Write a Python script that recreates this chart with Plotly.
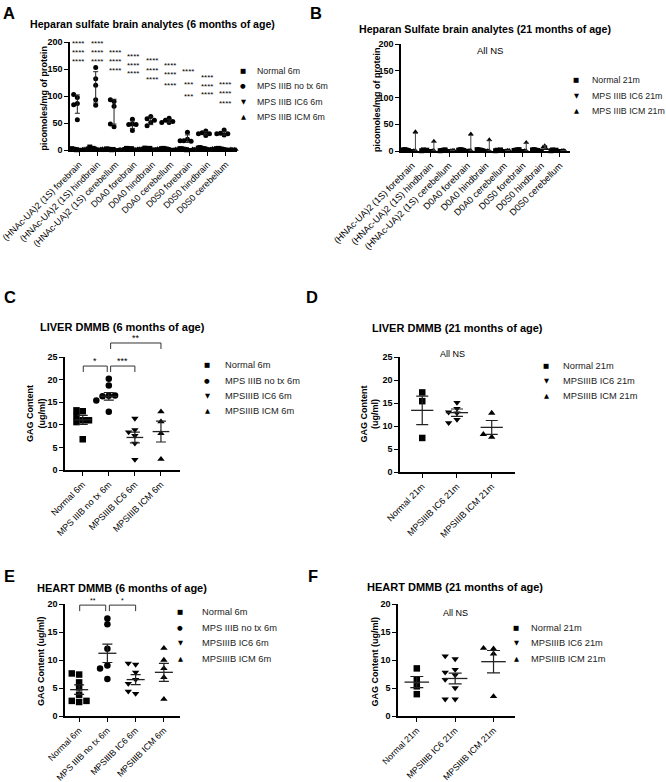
import plotly.graph_objects as go

W, H = 666, 782

# ---------------- DATA ----------------
A_CATS = ["(HNAc-UA)2 (1S) forebrain", "(HNAc-UA)2 (1S) hindbrain", "(HNAc-UA)2 (1S) cerebellum",
          "D0A0 forebrain", "D0A0 hindbrain", "D0A0 cerebellum",
          "D0S0 forebrain", "D0S0 hindbrain", "D0S0 cerebellum"]
A_GROUPS = ["Normal 6m", "MPS IIIB no tx 6m", "MPS IIIB IC6 6m", "MPS IIIB ICM 6m"]
A_NORMAL = [[1.5, 2.5, 1.0, 2.0, 0.5], [2.5, 5.5, 3.0, 2.0, 1.5], [1.0, 1.5, 0.5, 2.0, 1.0],
            [2.0, 3.0, 1.5, 1.0, 2.5], [2.5, 3.5, 2.0, 1.5, 3.0], [2.0, 3.0, 1.5, 2.5, 1.0],
            [1.5, 2.0, 1.0, 2.5, 0.5], [3.0, 4.5, 2.5, 3.5, 2.0], [2.0, 3.0, 1.5, 2.5, 1.0]]
A_NOTX = [[86, 84, 97, 103, 56], [153, 132, 120, 83, 93], [90, 93, 81, 43, 48],
          [57, 48, 47, 36, 47], [62, 58, 55, 51, 45], [59, 55, 53, 51, 51],
          [33, 20, 17, 16, 17], [35, 32, 30, 30, 27], [37, 31, 30, 30, 28]]
A_IC6 = [[1.0, 1.5, 0.5, 2.0, 1.0], [1.5, 2.0, 1.0, 2.5, 0.5], [0.5, 1.0, 1.5, 0.5, 1.0],
         [1.5, 2.0, 1.0, 2.5, 1.0], [2.0, 2.5, 1.5, 1.0, 2.0], [1.5, 2.0, 1.0, 0.5, 1.5],
         [1.0, 1.5, 0.5, 1.0, 2.0], [2.0, 2.5, 1.5, 3.0, 2.0], [1.5, 2.0, 1.0, 2.5, 1.0]]
A_ICM = [[1.0, 2.0, 0.5, 1.5, 1.0], [1.5, 2.5, 1.0, 2.0, 0.5], [0.5, 1.0, 1.5, 1.0, 0.5],
         [1.5, 2.5, 1.0, 2.0, 1.0], [2.0, 2.5, 1.5, 1.0, 2.0], [1.0, 2.0, 1.5, 0.5, 1.0],
         [1.0, 1.5, 0.5, 2.0, 1.0], [2.5, 3.0, 1.5, 2.0, 2.5], [1.0, 2.0, 1.5, 0.5, 1.0]]
A_NOTX_MEAN = [85, 116, 71, 47, 54, 54, 21, 31, 31]
A_NOTX_SD = [17, 29, 23, 7, 7, 3, 7, 3, 3.5]
A_STARS = [["****", "****", "****"], ["****", "****", "****"], ["****", "****", "****"],
           ["****", "****", "****"], ["****", "****", "****"], ["****", "****", "****"],
           ["****", "***", "***"], ["****", "****", "****"], ["****", "****", "****"]]

B_GROUPS = ["Normal 21m", "MPS IIIB IC6 21m", "MPS IIIB ICM 21m"]
B_NORMAL = [[1.5, 2.5, 1.0, 2.0], [1.0, 2.0, 1.5, 0.5], [1.5, 1.0, 2.0, 0.5],
            [2.0, 2.5, 1.0, 1.5], [1.5, 2.0, 1.0, 2.5], [1.0, 1.5, 2.0, 0.5],
            [2.0, 1.5, 2.5, 1.0], [1.5, 2.5, 1.0, 2.0], [1.0, 2.0, 1.5, 0.5]]
B_IC6 = [[1.0, 1.5, 0.5, 2.0], [0.5, 1.0, 1.5, 2.0], [1.0, 0.5, 1.5, 2.0],
         [1.5, 1.0, 2.0, 0.5], [1.0, 2.0, 0.5, 1.5], [0.5, 1.5, 1.0, 2.0],
         [1.5, 1.0, 0.5, 2.0], [1.0, 2.0, 1.5, 0.5], [1.5, 0.5, 1.0, 2.0]]
B_ICM = [[36, 1.0, 0.5], [18, 0.8, 0.4], [1.0, 0.5, 1.5], [32, 1.0, 0.6], [21, 0.6, 0.4],
         [1.2, 0.6, 0.8], [16, 0.6, 0.3], [10, 7, 4], [1.0, 0.6, 0.4]]
B_ICM_MEAN = [12.5, 6.4, 1.0, 11.2, 7.3, 0.9, 5.6, 7.0, 0.7]
B_ICM_ERR_UP = [20.5, 10.0, 0.5, 18.0, 11.8, 0.3, 9.0, 3.0, 0.3]
B_ICM_ERR_DN = [12.5, 6.4, 0.5, 11.2, 7.3, 0.3, 5.6, 3.0, 0.3]

C_GROUPS = ["Normal 6m", "MPS IIIB no tx 6m", "MPSIIIB IC6 6m", "MPSIIIB ICM 6m"]
C_VALUES = [[13.0, 13.2, 11.9, 11.0, 11.0, 10.6, 6.8],
            [20.2, 18.7, 16.4, 16.3, 16.5, 15.4, 12.9],
            [11.4, 8.9, 8.4, 7.6, 5.9, 2.3],
            [12.9, 10.7, 8.1, 2.4]]
C_MEAN = [11.1, 16.3, 7.2, 8.5]
C_SEM = [1.0, 0.85, 1.2, 2.3]
C_SIG = [(0, 1, 23.0, "*"), (1, 2, 23.0, "***"), (1, 3, 28.1, "**")]

D_GROUPS = ["Normal 21m", "MPSIIIB IC6 21m", "MPSIIIB ICM 21m"]
D_VALUES = [[17.3, 15.4, 7.4],
            [15.1, 13.8, 13.0, 12.8, 11.4, 10.7],
            [12.8, 7.6, 8.2]]
D_MEAN = [13.4, 12.9, 9.7]
D_SEM = [3.1, 0.8, 1.5]

E_GROUPS = ["Normal 6m", "MPS IIIB no tx 6m", "MPSIIIB IC6 6m", "MPSIIIB ICM 6m"]
E_VALUES = [[7.4, 7.6, 6.0, 5.1, 3.8, 2.5, 2.7, 2.7],
            [17.4, 16.4, 12.0, 9.0, 8.5, 6.6],
            [9.2, 9.4, 7.8, 6.5, 5.8, 4.0, 4.4],
            [12.1, 10.0, 8.5, 6.9, 3.0]]
E_MEAN = [4.7, 11.2, 6.5, 7.8]
E_SEM = [0.85, 1.65, 0.9, 1.6]
E_SIG = [(0, 1, 19.8, "**"), (1, 2, 19.8, "*")]

F_GROUPS = ["Normal 21m", "MPSIIIB IC6 21m", "MPSIIIB ICM 21m"]
F_VALUES = [[8.5, 6.5, 5.3, 3.9],
            [10.2, 10.7, 8.3, 7.8, 7.3, 6.5, 5.0, 3.0, 3.0],
            [12.0, 12.1, 11.1, 3.5]]
F_MEAN = [6.05, 6.7, 9.7]
F_SEM = [1.0, 0.95, 2.0]

# ---------------- LAYOUT CONSTANTS ----------------
FONT = "Liberation Sans, Arial, sans-serif"
PANEL = {
    "A": dict(n=1, x=(70, 237), y=(150, 42), xr=(-0.5, 8.6), yr=(0, 200), dt=50, fs=9.0),
    "B": dict(n=2, x=(401, 570), y=(151, 44), xr=(-0.6, 8.55), yr=(0, 200), dt=50, fs=9.2),
    "C": dict(n=3, x=(65, 180), y=(470, 357), xr=(-0.68, 3.73), yr=(0, 25), dt=5, fs=9.0),
    "D": dict(n=4, x=(400, 515), y=(472, 357), xr=(-0.64, 2.67), yr=(0, 25), dt=5, fs=9.0),
    "E": dict(n=5, x=(65, 180), y=(716, 604), xr=(-0.5, 3.57), yr=(0, 20), dt=5, fs=8.8),
    "F": dict(n=6, x=(398, 515), y=(716, 604), xr=(-0.49, 2.56), yr=(0, 20), dt=5, fs=8.8),
}
SYMS = ["square", "circle", "triangle-down", "triangle-up"]
GLYPH = {"square": "\u25A0", "circle": "\u25CF", "triangle-down": "\u25BC", "triangle-up": "\u25B2"}


def px(x):
    return x / W


def py(y):
    return 1 - y / H


def to_paper(p, xv, yv):
    c = PANEL[p]
    x0, x1 = c["x"]
    yb, yt = c["y"]
    xr, yr = c["xr"], c["yr"]
    X = x0 + (xv - xr[0]) / (xr[1] - xr[0]) * (x1 - x0)
    Y = yb + (yv - yr[0]) / (yr[1] - yr[0]) * (yt - yb)
    return X, Y


def swarm(vals, thr):
    order = [0, -1, 1, -2, 2, -3, 3, -4, 4]
    slots = []
    for i, v in enumerate(vals):
        used = {slots[j] for j in range(i) if abs(vals[j] - v) < thr}
        for s in order:
            if s not in used:
                slots.append(s)
                break
    return slots


fig = go.Figure()
layout = dict(width=W, height=H, margin=dict(l=0, r=0, t=0, b=0, autoexpand=False),
              paper_bgcolor="white", plot_bgcolor="white", showlegend=False,
              font=dict(family=FONT, color="black"))
annotations = []
shapes = []

# axes
for key, c in PANEL.items():
    n = c["n"]
    sx = "" if n == 1 else str(n)
    if key in ("A", "B"):
        cats = A_CATS
    else:
        cats = {"C": C_GROUPS, "D": D_GROUPS, "E": E_GROUPS, "F": F_GROUPS}[key]
    layout["xaxis" + sx] = dict(
        domain=[px(c["x"][0]), px(c["x"][1])], range=list(c["xr"]), anchor="y" + sx,
        automargin=False, ticklabeloverflow="allow",
        showline=True, linecolor="black", linewidth=1.5, ticks="outside", ticklen=4,
        tickwidth=1.2, tickcolor="black", tickvals=list(range(len(cats))), ticktext=cats,
        tickangle=-45, tickfont=dict(family=FONT, size=c["fs"], color="black"),
        showgrid=False, zeroline=False, fixedrange=True)
    ticks = list(range(c["yr"][0], c["yr"][1] + 1, c["dt"]))
    layout["yaxis" + sx] = dict(
        domain=[py(c["y"][0]), py(c["y"][1])], range=list(c["yr"]), anchor="x" + sx,
        automargin=False, ticklabeloverflow="allow",
        showline=True, linecolor="black", linewidth=1.5, ticks="outside", ticklen=4,
        tickwidth=1.2, tickcolor="black", tickvals=ticks,
        tickfont=dict(family=FONT, size=9, color="black", weight="bold"),
        showgrid=False, zeroline=False, fixedrange=True)


def add_group_points(panel, cat_lists, offset, thr, step, sym, size, name):
    n = PANEL[panel]["n"]
    sx = "" if n == 1 else str(n)
    xs, ys = [], []
    for ci, vals in enumerate(cat_lists):
        for v, s in zip(vals, swarm(vals, thr)):
            xs.append(ci + offset + s * step)
            ys.append(v)
    fig.add_trace(go.Scatter(x=xs, y=ys, mode="markers", name=name, cliponaxis=False,
                             marker=dict(symbol=sym, size=size, color="black", line=dict(width=0)),
                             xaxis="x" + sx, yaxis="y" + sx, hoverinfo="y"))


# ---- Panel A ----
A_OFF = [-0.33, -0.1, 0.13, 0.36]
for gi, data in enumerate([A_NORMAL, A_NOTX, A_IC6, A_ICM]):
    step = 0.2 if gi == 1 else 0.09
    add_group_points("A", data, A_OFF[gi], 8, step, SYMS[gi], 5, A_GROUPS[gi])
fig.add_trace(go.Scatter(x=[i + A_OFF[1] for i in range(len(A_CATS))], y=A_NOTX_MEAN,
                         mode="markers", marker=dict(size=1, color="rgba(0,0,0,0)"),
                         error_y=dict(type="data", array=A_NOTX_SD, color="#222", thickness=1, width=2.5),
                         xaxis="x", yaxis="y", showlegend=False, hoverinfo="skip"))
A_STAR_Y = [[198, 181, 163], [198, 181, 163], [181, 164, 147], [174, 157, 141], [165, 148, 131],
            [156, 139, 120], [146, 122, 100], [135, 118, 102], [122, 104, 87]]
for ci, (stars, ys) in enumerate(zip(A_STARS, A_STAR_Y)):
    for s, yv in zip(stars, ys):
        annotations.append(dict(x=ci - 0.05, y=yv, xref="x", yref="y", text=s, showarrow=False,
                                font=dict(family=FONT, size=8, color="black"),
                                xanchor="center", yanchor="middle"))

# ---- Panel B ----
B_OFF = [-0.3, -0.05, 0.18]
for gi, data in enumerate([B_NORMAL, B_IC6, B_ICM]):
    add_group_points("B", data, B_OFF[gi], 8, 0.09, SYMS[[0, 2, 3][gi]], 5, B_GROUPS[gi])
fig.add_trace(go.Scatter(x=[i + B_OFF[2] for i in range(len(A_CATS))], y=B_ICM_MEAN,
                         mode="markers", marker=dict(size=1, color="rgba(0,0,0,0)"),
                         error_y=dict(type="data", array=B_ICM_ERR_UP, arrayminus=B_ICM_ERR_DN,
                                      color="#444", thickness=1, width=2.5),
                         xaxis="x2", yaxis="y2", showlegend=False, hoverinfo="skip"))


# ---- Panels C-F (scatter dot plots with mean +/- SEM) ----
def dot_panel(panel, groups, values, means, sems, syms, thr, step, cap):
    n = PANEL[panel]["n"]
    sx = str(n)
    for gi, vals in enumerate(values):
        add_group_points(panel, [vals], gi, thr, step, syms[gi], 6.5, groups[gi])
    lx, ly = [], []
    for gi, m in enumerate(means):
        lx += [gi - 0.32, gi + 0.32, None]
        ly += [m, m, None]
    fig.add_trace(go.Scatter(x=lx, y=ly, mode="lines", line=dict(color="#222", width=1.3),
                             xaxis="x" + sx, yaxis="y" + sx, hoverinfo="skip"))
    fig.add_trace(go.Scatter(x=list(range(len(means))), y=means, mode="markers",
                             marker=dict(size=1, color="rgba(0,0,0,0)"),
                             error_y=dict(type="data", array=sems, color="#222", thickness=1.2, width=cap),
                             xaxis="x" + sx, yaxis="y" + sx, hoverinfo="skip"))


dot_panel("C", C_GROUPS, C_VALUES, C_MEAN, C_SEM, SYMS, 1.15, 0.24, 5)
dot_panel("D", D_GROUPS, D_VALUES, D_MEAN, D_SEM, [SYMS[0], SYMS[2], SYMS[3]], 0.95, 0.24, 6)
dot_panel("E", E_GROUPS, E_VALUES, E_MEAN, E_SEM, SYMS, 0.9, 0.26, 5)
dot_panel("F", F_GROUPS, F_VALUES, F_MEAN, F_SEM, [SYMS[0], SYMS[2], SYMS[3]], 0.9, 0.26, 6.5)


def brackets(panel, sigs):
    for a, b, level, txt in sigs:
        xa, yt = to_paper(panel, a + (0.02 if a == 0 else 0.07), level)
        xb, _ = to_paper(panel, b - (0.06 if b == 1 else 0.0), level)
        yd = yt + 6
        path = "M {:.5f},{:.5f} L {:.5f},{:.5f} L {:.5f},{:.5f} L {:.5f},{:.5f}".format(
            px(xa), py(yd), px(xa), py(yt), px(xb), py(yt), px(xb), py(yd))
        shapes.append(dict(type="path", path=path, xref="paper", yref="paper",
                           line=dict(color="#333", width=1)))
        annotations.append(dict(x=px((xa + xb) / 2), y=py(yt - 5), xref="paper", yref="paper",
                                text=txt, showarrow=False, xanchor="center", yanchor="middle",
                                font=dict(family=FONT, size=9 if panel == "C" else 7, color="black")))


brackets("C", C_SIG)
brackets("E", E_SIG)

# ---- text: panel letters, titles, y titles, NS notes ----
def ann(x, y, text, size, bold=False, anchor="center", angle=0, color="black", family=FONT):
    annotations.append(dict(x=px(x), y=py(y), xref="paper", yref="paper", text=text, showarrow=False,
                            xanchor=anchor, yanchor="middle", textangle=angle,
                            font=dict(family=family, size=size, color=color,
                                      weight="bold" if bold else "normal")))


for lbl, (x, y) in {"A": (9, 13), "B": (316, 13), "C": (10, 297), "D": (312, 297),
                    "E": (9, 576), "F": (313, 576)}.items():
    ann(x, y, lbl, 16.5, bold=True)

ann(152.5, 24.5, "Heparan sulfate brain analytes (6 months of age)", 10.6, bold=True)
ann(484.5, 29, "Heparan Sulfate brain analytes (21 months of age)", 10.6, bold=True)
ann(122.5, 327, "LIVER DMMB (6 months of age)", 11, bold=True)
ann(457, 328, "LIVER DMMB (21 months of age)", 11, bold=True)
ann(121.5, 587.5, "HEART DMMB (6 months of age)", 11, bold=True)
ann(455, 587, "HEART DMMB (21 months of age)", 11, bold=True)

ann(43.5, 98, "picomoles/mg of protein", 9, bold=True, angle=-90)
ann(377, 99, "picomoles/mg of protein", 9, bold=True, angle=-90)
ann(36, 414, "GAG Content<br>(ug/ml)", 9, bold=True, angle=-90)
ann(369.5, 414, "GAG Content<br>(ug/ml)", 9, bold=True, angle=-90)
ann(41, 661, "GAG Content (ug/ml)", 9, bold=True, angle=-90)
ann(374.5, 661, "GAG Content (ug/ml)", 9, bold=True, angle=-90)

ann(490, 51, "All NS", 9.5)
ann(452, 354, "All NS", 9)
ann(455, 613, "All NS", 9)

# ---- legends (key glyph + label) ----
LEG = [
    (243, 255, [71, 86, 102, 117], A_GROUPS, SYMS, 8.8),
    (576, 590, [80, 96, 111], B_GROUPS, [SYMS[0], SYMS[2], SYMS[3]], 8.8),
    (207, 223, [365, 381, 396, 411], C_GROUPS, SYMS, 9.3),
    (546, 561, [366, 381, 396], D_GROUPS, [SYMS[0], SYMS[2], SYMS[3]], 9.3),
    (180, 200, [612, 628, 643, 659], E_GROUPS, SYMS, 9.3),
    (516, 529, [628, 643, 659], F_GROUPS, [SYMS[0], SYMS[2], SYMS[3]], 9.3),
]
for gx, tx, rows, names, syms, fs in LEG:
    for y, name, s in zip(rows, names, syms):
        ann(gx, y, GLYPH[s], 6.5, anchor="center", family="DejaVu Sans")
        ann(tx, y, name, fs, anchor="left", color="#222")

layout["annotations"] = annotations
layout["shapes"] = shapes
fig.update_layout(**layout)
fig.write_html("out.html", config={"displayModeBar": False},
               post_script="document.body.style.margin='0';document.body.style.overflow='hidden';")
